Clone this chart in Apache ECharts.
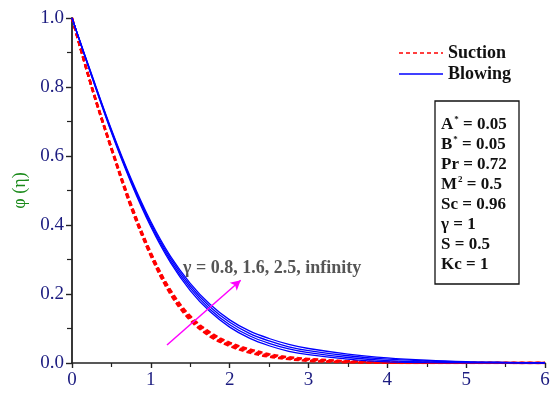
<!DOCTYPE html>
<html><head><meta charset="utf-8">
<script src="https://cdn.jsdelivr.net/npm/echarts@6/dist/echarts.min.js"></script>
<style>html,body{margin:0;padding:0;background:#fff}#c{width:553px;height:394px}</style>
</head><body><div id="c"></div>
<script>
// eta grid
const eta = [0,0.25,0.5,0.75,1,1.25,1.5,1.75,2,2.25,2.5,2.75,3,3.5,4,4.5,5,5.5,6];
// Blowing (gamma = 0.8, 1.6, 2.5, infinity)
const blow08  = [1,0.830,0.668,0.522,0.395,0.291,0.210,0.149,0.104,0.072,0.050,0.034,0.024,0.011,0.003,0.001,0.0002,0.0001,0];
const blow16  = [1,0.832,0.671,0.526,0.400,0.297,0.217,0.156,0.111,0.079,0.057,0.041,0.030,0.016,0.007,0.003,0.0014,0.0007,0.0002];
const blow25  = [1,0.834,0.674,0.530,0.405,0.303,0.224,0.163,0.118,0.086,0.064,0.047,0.036,0.021,0.011,0.006,0.0026,0.0013,0.0004];
const blowInf = [1,0.836,0.677,0.534,0.410,0.309,0.231,0.170,0.125,0.093,0.071,0.054,0.042,0.026,0.015,0.008,0.0038,0.0019,0.0006];
// Suction (gamma = 0.8, 1.6, 2.5, infinity)
const suc08  = [1,0.798,0.619,0.450,0.310,0.199,0.124,0.077,0.049,0.030,0.018,0.011,0.006,0.002,0.0003,0,0,0,0];
const suc16  = [1,0.799,0.621,0.453,0.313,0.203,0.128,0.081,0.052,0.034,0.021,0.013,0.008,0.0032,0.0011,0.0004,0.0002,0.0001,0];
const suc25  = [1,0.801,0.623,0.457,0.317,0.207,0.132,0.085,0.056,0.037,0.023,0.015,0.010,0.0044,0.0019,0.0008,0.0003,0.0001,0];
const sucInf = [1,0.802,0.625,0.460,0.320,0.211,0.136,0.089,0.059,0.040,0.026,0.017,0.012,0.0056,0.0027,0.0012,0.0004,0.0001,0];
// arrow annotation (data coordinates) and labels
const arrowFrom = [1.205, 0.052];
const arrowTo = [2.14, 0.24];
const gammaLabel = 'γ = 0.8, 1.6, 2.5, infinity';
const legendNames = ['Suction','Blowing'];
const xTicks = [0,1,2,3,4,5,6];
const yTicks = [0.0,0.2,0.4,0.6,0.8,1.0];

const serif = '"Liberation Serif","DejaVu Serif",serif';
const pair = arr => eta.map((e,i)=>[e,arr[i]]);

function blueSeries(arr){
  return {name:'Blowing', type:'line', data:pair(arr), smooth:0.35, symbol:'none',
    lineStyle:{color:'#0000ff', width:1.3}, itemStyle:{color:'#0000ff'}, z:3};
}
function redSeries(arr){
  return {name:'Suction', type:'line', data:pair(arr), smooth:0.35, symbol:'none',
    lineStyle:{color:'#ff0000', width:2.3, type:[5,3]}, itemStyle:{color:'#ff0000'}, z:2};
}

const series = [
  redSeries(suc08), redSeries(suc16), redSeries(suc25), redSeries(sucInf),
  blueSeries(blow08), blueSeries(blow16), blueSeries(blow25), blueSeries(blowInf),
  {type:'line', data:[], silent:true,
   markLine:{silent:true, symbol:['none','arrow'], symbolSize:[8,10],
     lineStyle:{color:'#ff00ff', width:1.5, type:'solid'}, label:{show:false},
     data:[[{coord:arrowFrom},{coord:arrowTo}]]}}
];

const paramLines = [
  '{b|A}{s|*}{b| = 0.05}',
  '{b|B}{s|*}{b| = 0.05}',
  '{b|Pr = 0.72}',
  '{b|M}{s|2}{b| = 0.5}',
  '{b|Sc = 0.96}',
  '{b|γ = 1}',
  '{b|S = 0.5}',
  '{b|Kc = 1}'
];

const chart = echarts.init(document.getElementById('c'), null, {renderer:'canvas'});
chart.setOption({
  animation:false,
  backgroundColor:'#ffffff',
  grid:{left:72, right:8, top:18, bottom:31, containLabel:false, outerBoundsMode:'none'},
  xAxis:{type:'value', min:0, max:6, interval:1,
    name:'η', nameLocation:'middle', nameGap:12,
    nameTextStyle:{fontFamily:serif, fontSize:19, color:'#1a8a1a', padding:[0,0,0,78]},
    axisLine:{onZero:false, lineStyle:{color:'#222', width:1.6}},
    axisTick:{inside:false, length:5, lineStyle:{color:'#222', width:1.4}},
    minorTick:{show:true, splitNumber:2, length:4, lineStyle:{color:'#222', width:1.2}},
    splitLine:{show:false},
    axisLabel:{fontFamily:serif, fontSize:19, color:'#1c1c80', margin:8,
      formatter:v=>xTicks.includes(v)?String(v):''}
  },
  yAxis:{type:'value', min:0, max:1, interval:0.2,
    name:'φ (η)', nameLocation:'middle', nameGap:42, nameRotate:90,
    nameTextStyle:{fontFamily:serif, fontSize:18, color:'#1a8a1a'},
    axisLine:{show:true, lineStyle:{color:'#222', width:1.8}},
    axisTick:{show:true, length:6, lineStyle:{color:'#222', width:1.4}},
    minorTick:{show:true, splitNumber:2, length:5, lineStyle:{color:'#222', width:1.2}},
    splitLine:{show:false},
    axisLabel:{fontFamily:serif, fontSize:19, color:'#1c1c80', margin:8,
      formatter:v=>v.toFixed(1)}
  },
  series:series,
  graphic:[
    // legend
    {type:'line', shape:{x1:399, y1:53, x2:443, y2:53},
     style:{stroke:'#ff0000', lineWidth:1.3, lineDash:[4,3]}, z:10},
    {type:'text', left:448, top:44, z:11,
     style:{text:legendNames[0], fontFamily:serif, fontWeight:'bold', fontSize:18, fill:'#111'}},
    {type:'line', shape:{x1:399, y1:74, x2:443, y2:74},
     style:{stroke:'#0000ff', lineWidth:1.3}, z:10},
    {type:'text', left:448, top:65, z:11,
     style:{text:legendNames[1], fontFamily:serif, fontWeight:'bold', fontSize:18, fill:'#111'}},
    // parameter box
    {type:'rect', shape:{x:435, y:101, width:84, height:183},
     style:{fill:'none', stroke:'#111', lineWidth:1.3}, z:10},
    {type:'text', left:441, top:115, z:11,
     style:{text:paramLines.join('\n'), lineHeight:20,
       rich:{
         b:{fontFamily:serif, fontWeight:'bold', fontSize:17, fill:'#111', lineHeight:20},
         s:{fontFamily:serif, fontWeight:'bold', fontSize:9, fill:'#111', verticalAlign:'top', padding:[0,0,9,1], lineHeight:20}
       }}},
    {type:'text', left:183, top:259, z:11,
     style:{text:gammaLabel, fontFamily:serif, fontWeight:'bold', fontSize:18, fill:'#555'}}
  ]
});
</script></body></html>
